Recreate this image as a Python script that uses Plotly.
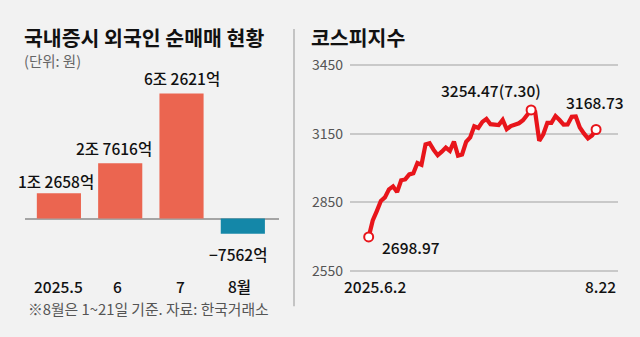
import plotly.graph_objects as go

# ---- Data -------------------------------------------------------------
# Foreign net buying on the Korean stock market (unit: 100 million won, 억원)
months = ["2025.5", "6", "7", "8월"]
net_buy = [12658, 27616, 62621, -7562]
net_buy_labels = ["1조 2658억", "2조 7616억", "6조 2621억", "−7562억"]

# KOSPI daily close, 2025-06-02 .. 2025-08-22 (trading days)
kospi_dates = [
    "6.2", "6.4", "6.5", "6.9", "6.10", "6.11", "6.12", "6.13", "6.16", "6.17",
    "6.18", "6.19", "6.20", "6.23", "6.24", "6.25", "6.26", "6.27", "6.30",
    "7.1", "7.2", "7.3", "7.4", "7.7", "7.8", "7.9", "7.10", "7.11", "7.14",
    "7.15", "7.16", "7.17", "7.18", "7.21", "7.22", "7.23", "7.24", "7.25",
    "7.28", "7.29", "7.30", "7.31",
    "8.1", "8.4", "8.5", "8.6", "8.7", "8.8", "8.11", "8.12", "8.13", "8.14",
    "8.18", "8.19", "8.20", "8.21", "8.22",
]
kospi_close = [
    2698.97, 2770.84, 2812.05, 2855.77, 2871.85, 2907.04, 2920.03, 2894.62, 2946.66, 2950.30,
    2972.29, 2977.74, 3021.84, 3014.47, 3103.64, 3108.52, 3079.56, 3055.94, 3071.70,
    3089.65, 3075.06, 3116.27, 3054.28, 3059.47, 3114.95, 3133.74, 3183.23, 3175.77, 3202.03,
    3215.28, 3192.06, 3188.12, 3188.07, 3210.81, 3169.94, 3183.77, 3190.45, 3196.05,
    3209.52, 3230.57, 3254.47, 3245.44,
    3119.41, 3147.75, 3198.00, 3198.04, 3227.68, 3210.01, 3189.91, 3190.45, 3224.37, 3225.66,
    3177.28, 3151.56, 3130.09, 3142.93, 3168.73,
]
kospi_ticks = [2550, 2850, 3150, 3450]

# ---- Style ------------------------------------------------------------
BG = "#f2f2f2"
RED_BAR = "#eb6550"
BLUE_BAR = "#1487a8"
LINE_RED = "#e8151b"
GRID = "#c9c9c9"
FONT = "Noto Sans CJK KR"
INK = "#111111"
W, H = 640, 337


def py(px):
    """Convert a pixel row (from top) into paper y."""
    return 1 - px / H


def pxx(px):
    return px / W


def label_font(size=15.5, color=INK, weight=500):
    return dict(family=FONT, size=size, color=color, weight=weight)


fig = go.Figure()

# Left: monthly net buying bars
bar_colors = [RED_BAR if v >= 0 else BLUE_BAR for v in net_buy]
fig.add_trace(go.Bar(
    x=months, y=net_buy, marker=dict(color=bar_colors, line=dict(width=0)),
    xaxis="x", yaxis="y", hoverinfo="skip", showlegend=False,
))

# Right: KOSPI line with highlighted start / peak / end points
idx = list(range(len(kospi_close)))
fig.add_trace(go.Scatter(
    x=idx, y=kospi_close, mode="lines",
    line=dict(color=LINE_RED, width=4.2, shape="linear"),
    xaxis="x2", yaxis="y2", hoverinfo="skip", showlegend=False,
))
peak_i = kospi_close.index(max(kospi_close))
key_pts = [0, peak_i, len(kospi_close) - 1]
fig.add_trace(go.Scatter(
    x=key_pts, y=[kospi_close[i] for i in key_pts], mode="markers",
    marker=dict(size=9, color="white", line=dict(color=LINE_RED, width=2)),
    xaxis="x2", yaxis="y2", hoverinfo="skip", showlegend=False, cliponaxis=False,
))

annotations = []

# Bar value labels (category positions given by index)
shifts = [12, 15, 15, -20]
xshifts = [-3, -6, 0, -5]
for i, (v, lab, ys, xs) in enumerate(zip(net_buy, net_buy_labels, shifts, xshifts)):
    annotations.append(dict(
        x=i, y=v, xref="x", yref="y", text=lab, showarrow=False,
        yshift=ys, xshift=xs, yanchor="middle", font=label_font(),
    ))

# Month labels under the bars
month_xshifts = [0, -3, -1, -3]
for i, (m, xs) in enumerate(zip(months, month_xshifts)):
    annotations.append(dict(
        x=i, y=py(291.5), xref="x", yref="paper", text=m, showarrow=False,
        xshift=xs, yanchor="middle", font=label_font(),
    ))

# KOSPI point labels
annotations += [
    dict(x=0, y=kospi_close[0], xref="x2", yref="y2",
         text=f"{kospi_close[0]:.2f}", showarrow=False, xanchor="left",
         xshift=11, yshift=-10, font=label_font()),
    dict(x=peak_i, y=kospi_close[peak_i], xref="x2", yref="y2",
         text=f"{kospi_close[peak_i]:.2f}({kospi_dates[peak_i]})", showarrow=False,
         xanchor="center", xshift=-40, yshift=20, font=label_font()),
    dict(x=len(kospi_close) - 1, y=kospi_close[-1], xref="x2", yref="y2",
         text=f"{kospi_close[-1]:.2f}", showarrow=False, xanchor="center",
         xshift=-1, yshift=28, font=label_font()),
]

# KOSPI date labels
annotations += [
    dict(x=0, y=py(291.5), xref="x2", yref="paper", text="2025.6.2",
         showarrow=False, xanchor="center", xshift=6, yanchor="middle",
         font=label_font()),
    dict(x=len(kospi_close) - 1, y=py(291.5), xref="x2", yref="paper",
         text=kospi_dates[-1], showarrow=False, xanchor="center", xshift=4,
         yanchor="middle", font=label_font()),
]

# Titles, unit and source
annotations += [
    dict(x=pxx(22), y=py(28), xref="paper", yref="paper", xanchor="left",
         yanchor="middle", text="<b>국내증시 외국인 순매매 현황</b>", showarrow=False,
         font=dict(family=FONT, size=20.5, color=INK)),
    dict(x=pxx(22), y=py(53), xref="paper", yref="paper", xanchor="left",
         yanchor="middle", text="(단위: 원)", showarrow=False,
         font=dict(family=FONT, size=14.5, color="#666666")),
    dict(x=pxx(309), y=py(29), xref="paper", yref="paper", xanchor="left",
         yanchor="middle", text="<b>코스피지수</b>", showarrow=False,
         font=dict(family=FONT, size=20.5, color=INK)),
    dict(x=pxx(26), y=py(315), xref="paper", yref="paper", xanchor="left",
         yanchor="middle", text="※8월은 1~21일 기준. 자료: 한국거래소", showarrow=False,
         font=dict(family=FONT, size=14.8, color="#555555")),
]

# Panel divider
shapes = [dict(type="line", xref="paper", yref="paper",
               x0=pxx(294), x1=pxx(294), y0=py(20), y1=py(313),
               line=dict(color="#c4c4c4", width=2))]

fig.update_layout(
    width=W, height=H, margin=dict(l=0, r=0, t=0, b=0),
    paper_bgcolor=BG, plot_bgcolor="rgba(0,0,0,0)",
    bargap=0.28, showlegend=False,
    annotations=annotations, shapes=shapes,
    xaxis=dict(domain=[pxx(25), pxx(279)], range=[-0.553, 3.59],
               type="category", showticklabels=False, showgrid=False,
               zeroline=False, showline=False, fixedrange=True),
    yaxis=dict(domain=[py(262.5), py(59.9)], range=[-20000, 76000],
               showticklabels=False, showgrid=False, zeroline=True,
               zerolinecolor="#a5a5a5", zerolinewidth=1.5, fixedrange=True),
    xaxis2=dict(domain=[pxx(350), pxx(618)], range=[-4.6, 61.4],
                showticklabels=False, showgrid=False, zeroline=False,
                showline=False, fixedrange=True, anchor="y2"),
    yaxis2=dict(domain=[py(276.9), py(57.1)], range=[2545, 3455],
                tickvals=kospi_ticks, ticktext=[str(t) for t in kospi_ticks],
                showgrid=True, gridcolor=GRID, gridwidth=1.5, zeroline=False,
                ticks="", ticklabelstandoff=6, anchor="x2",
                tickfont=dict(family=FONT, size=14, color="#555555"),
                fixedrange=True),
)

fig.write_html("out.html")
